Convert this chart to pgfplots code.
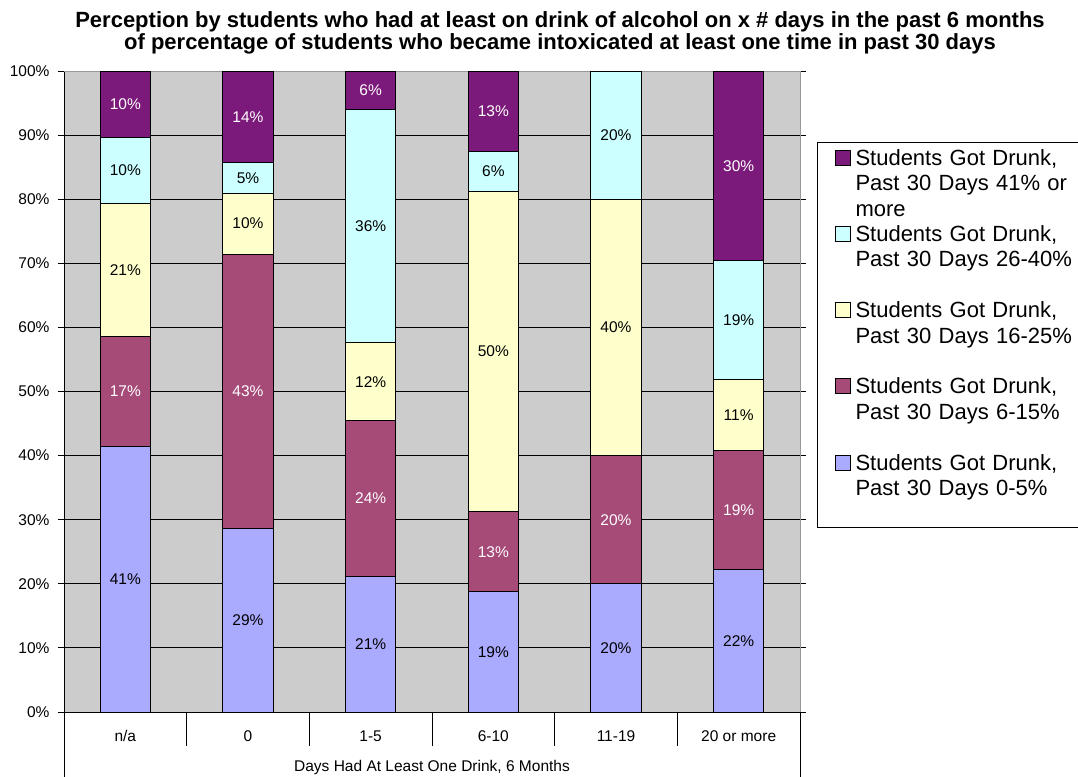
\documentclass[border=0pt]{standalone}
\usepackage{pgfplots}
\pgfplotsset{compat=1.18}
\usepackage{pgfplotstable}
\usepackage{fontspec}
\setmainfont{Liberation Sans}

\definecolor{cLow}{HTML}{AAAAFF}
\definecolor{cSix}{HTML}{A64A78}
\definecolor{cSixteen}{HTML}{FFFFCC}
\definecolor{cTwentysix}{HTML}{CCFFFF}
\definecolor{cHigh}{HTML}{7B1A7B}
\definecolor{plotbg}{HTML}{CCCCCC}
\definecolor{frame}{HTML}{999999}

% percent of students in each "got drunk" band, per drinking-days group
\pgfplotstableread{
x  low   six   sixteen twentysix high
0  41.38 17.24 20.69   10.34     10.34
1  28.57 42.86 9.52    4.76      14.29
2  21.21 24.24 12.12   36.36     6.06
3  18.75 12.50 50.00   6.25      12.50
4  20.00 20.00 40.00   20.00     0
5  22.22 18.52 11.11   18.52     29.63
}\drunkdata

\pgfplotsset{
  seg/.style n args={3}{
    fill=#1, draw=black, line width=1pt,
    point meta=\thisrow{#3},
    nodes near coords={\pgfmathfloatifflags{\pgfplotspointmeta}{0}{}{\pgfmathprintnumber[fixed,precision=0]{\pgfplotspointmeta}\%}},
    every node near coord/.append style={text=#2, anchor=center,
      font=\fontsize{15.5}{18}\selectfont},
  },
  sq/.style={legend image code/.code={\draw[fill=#1, draw=black, line width=1pt] (0pt,0pt) rectangle (15pt,15pt);}},
}

\begin{document}
\begin{tikzpicture}
\useasboundingbox (0,0) rectangle (1078pt,-776pt);

\node[font=\bfseries\fontsize{22}{20.5}\selectfont, align=center] at (560pt,-33pt)
  {Perception by students who had at least on drink of alcohol on x \# days in the past 6 months\\
   of percentage of students who became intoxicated at least one time in past 30 days};

\begin{axis}[
  at={(64pt,-712pt)}, anchor=south west,
  width=736pt, height=641pt, scale only axis,
  ybar stacked, bar width=0.41,
  xmin=-0.5, xmax=5.5, ymin=0, ymax=100,
  clip=false,
  axis background/.style={fill=plotbg},
  axis line style={draw=none},
  /pgf/number format/assume math mode=true,
  ytick={0,10,20,30,40,50,60,70,80,90,100},
  yticklabels={0\%,10\%,20\%,30\%,40\%,50\%,60\%,70\%,80\%,90\%,100\%},
  yticklabel style={font=\fontsize{15.5}{18}\selectfont, xshift=-5pt},
  ymajorgrids, major grid style={black, line width=1pt},
  ytick style={black, line width=1pt},
  tick align=outside, major tick length=6pt,
  xtick={0,1,2,3,4,5},
  xticklabels={n/a,0,1-5,6-10,11-19,20 or more},
  xtick style={draw=none},
  xticklabel style={font=\fontsize{15.5}{18}\selectfont, yshift=-9pt},
  xlabel={Days Had At Least One Drink, 6 Months},
  xlabel style={font=\fontsize{15.5}{18}\selectfont, at={(rel axis cs:0.5,0)}, anchor=center, yshift=-55pt},
  legend style={at={(rel axis cs:1.0231,0.8892)}, anchor=north west,
    draw=black, line width=1pt, fill=white,
    font=\fontsize{22}{25}\selectfont,
    cells={anchor=base west, inner sep=0pt, text height=17.8pt, text depth=7.6pt, text width=230pt},
    inner xsep=17pt, inner ysep=3pt, row sep=2.1pt, column sep=3pt},
]
% legend rows, top to bottom (three text lines per series)
\addlegendimage{sq=cHigh}
\addlegendimage{empty legend}
\addlegendimage{empty legend}
\addlegendimage{sq=cTwentysix}
\addlegendimage{empty legend}
\addlegendimage{empty legend}
\addlegendimage{sq=cSixteen}
\addlegendimage{empty legend}
\addlegendimage{empty legend}
\addlegendimage{sq=cSix}
\addlegendimage{empty legend}
\addlegendimage{empty legend}
\addlegendimage{sq=cLow}
\addlegendimage{empty legend}
\addlegendimage{empty legend}

\addplot[seg={cLow}{black}{low}] table[x=x, y=low] {\drunkdata};
\addplot[seg={cSix}{white}{six}] table[x=x, y=six] {\drunkdata};
\addplot[seg={cSixteen}{black}{sixteen}] table[x=x, y=sixteen] {\drunkdata};
\addplot[seg={cTwentysix}{black}{twentysix}] table[x=x, y=twentysix] {\drunkdata};
\addplot[seg={cHigh}{white}{high}] table[x=x, y=high] {\drunkdata};

\legend{{Students Got Drunk,},{Past 30 Days 41\% or},{more},
  {Students Got Drunk,},{Past 30 Days 26-40\%},{\mbox{}},
  {Students Got Drunk,},{Past 30 Days 16-25\%},{\mbox{}},
  {Students Got Drunk,},{Past 30 Days 6-15\%},{\mbox{}},
  {Students Got Drunk,},{Past 30 Days 0-5\%},{\mbox{}}}

% plot frame: grey top/right, black left/bottom
\draw[frame, line width=1pt] (rel axis cs:0,1) -- (rel axis cs:1,1) -- (rel axis cs:1,0);
\draw[black, line width=1pt] (rel axis cs:0,1) -- (rel axis cs:0,0) -- (rel axis cs:1,0);
% category separators below the axis
\pgfplotsinvokeforeach{0.5,1.5,2.5,3.5,4.5}{
  \draw[black, line width=1pt] (axis cs:#1,0) -- ++(0pt,-34pt);
}
\draw[black, line width=1pt] (rel axis cs:0,0) -- ++(0pt,-70pt);
\draw[black, line width=1pt] (rel axis cs:1,0) -- ++(0pt,-70pt);
\end{axis}
\end{tikzpicture}
\end{document}
